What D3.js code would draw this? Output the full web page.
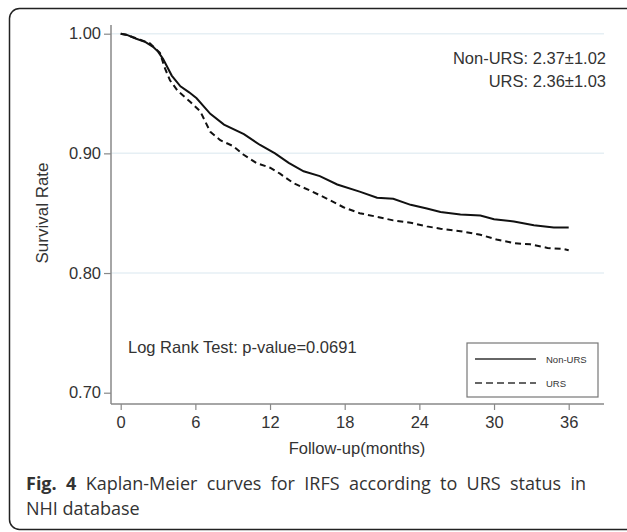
<!DOCTYPE html>
<html lang="en">
<head>
    <meta charset="UTF-8">
    <title>Kaplan-Meier curves</title>
    <script src="https://d3js.org/d3.v7.min.js"></script>
    <style>
        body { margin: 0; background-color: white; }
        .chart text { font-family: "Liberation Sans", Arial, sans-serif; fill: #333; }
        .caption { font-family: "Open Sans", "Noto Sans", sans-serif; font-size: 18px; fill: #333; }
    </style>
</head>
<body>
    <script>
        // Follow-up months and survival rate
        const nonUrsMonths = [0, 0.5, 1.2, 2.0, 2.6, 3.0, 3.4, 4.1, 4.8, 5.5, 6.1, 7.2, 8.3, 9.9, 11.2, 12.4, 13.5, 14.7, 16.0, 17.4, 19.2, 20.6, 21.9, 23.3, 24.6, 25.7, 27.3, 28.9, 30.0, 31.6, 33.2, 34.8, 36];
        const nonUrsRate = [1.000, 0.999, 0.996, 0.993, 0.989, 0.985, 0.979, 0.965, 0.956, 0.951, 0.946, 0.933, 0.924, 0.916, 0.907, 0.900, 0.892, 0.885, 0.881, 0.874, 0.868, 0.863, 0.862, 0.857, 0.854, 0.851, 0.849, 0.848, 0.845, 0.843, 0.840, 0.838, 0.838];
        const ursMonths = [0, 0.5, 1.0, 1.55, 2.35, 3.15, 3.56, 3.96, 4.6, 5.6, 6.4, 7.2, 8.0, 9.05, 9.85, 10.9, 12.0, 12.8, 13.9, 15.2, 16.6, 17.9, 19.2, 20.6, 21.9, 23.3, 24.6, 25.7, 27.3, 28.9, 30.2, 31.6, 32.9, 34.3, 35.6, 36];
        const ursRate = [1.000, 0.999, 0.997, 0.995, 0.992, 0.984, 0.971, 0.961, 0.952, 0.943, 0.935, 0.918, 0.911, 0.906, 0.899, 0.892, 0.888, 0.883, 0.875, 0.869, 0.862, 0.855, 0.850, 0.847, 0.844, 0.842, 0.839, 0.837, 0.835, 0.832, 0.828, 0.825, 0.824, 0.821, 0.820, 0.819];

        const xTicks = [0, 6, 12, 18, 24, 30, 36];
        const yTicks = [0.70, 0.80, 0.90, 1.00];
        const seriesNames = ["Non-URS", "URS"];
        const summaryLines = ["Non-URS: 2.37\u00b11.02", "URS: 2.36\u00b11.03"];
        const testLabel = "Log Rank Test: p-value=0.0691";

        const width = 627, height = 532;
        const svg = d3.select("body").append("svg")
            .attr("width", width)
            .attr("height", height);

        // card frame (right edge runs off the picture)
        svg.append("rect")
            .attr("x", 9.5).attr("y", 8.5)
            .attr("width", 640).attr("height", 521)
            .attr("rx", 10)
            .attr("fill", "white")
            .attr("stroke", "#222")
            .attr("stroke-width", 1.5);

        const chart = svg.append("g").attr("class", "chart");

        const x = d3.scaleLinear().domain([0, 36]).range([120.7, 568.7]);
        const y = d3.scaleLinear().domain([0.70, 1.00]).range([392.7, 33.7]);
        const plotLeft = 111, plotRight = 604, plotBottom = 404, plotTop = 25;

        // grid lines
        chart.append("g")
            .selectAll("line")
            .data(yTicks.filter(d => d > 0.7))
            .join("line")
            .attr("x1", plotLeft).attr("x2", plotRight)
            .attr("y1", d => y(d)).attr("y2", d => y(d))
            .attr("stroke", "#e6eff4")
            .attr("stroke-width", 1.5);

        // y axis
        const yAxis = chart.append("g")
            .attr("transform", `translate(${plotLeft},0)`)
            .call(d3.axisLeft(y).tickValues(yTicks).tickFormat(d3.format(".2f")).tickSize(7).tickSizeOuter(0));
        yAxis.select(".domain").remove();
        yAxis.append("line")
            .attr("y1", plotTop).attr("y2", plotBottom)
            .attr("stroke", "#888").attr("stroke-width", 1.5);

        // x axis
        const xAxis = chart.append("g")
            .attr("transform", `translate(0,${plotBottom})`)
            .call(d3.axisBottom(x).tickValues(xTicks).tickSize(6).tickSizeOuter(0));
        xAxis.select(".domain").remove();
        xAxis.append("line")
            .attr("x1", plotLeft).attr("x2", plotRight)
            .attr("stroke", "#888").attr("stroke-width", 1.5);

        chart.selectAll(".tick line").attr("stroke", "#888").attr("stroke-width", 1.2);
        chart.selectAll(".tick text").style("font-size", "16.5px").attr("fill", "#333");
        yAxis.selectAll(".tick text").attr("x", -10);
        xAxis.selectAll(".tick text").attr("y", 12);

        // axis titles
        chart.append("text")
            .attr("transform", "translate(48,213) rotate(-90)")
            .attr("text-anchor", "middle")
            .style("font-size", "17px")
            .text("Survival Rate");
        chart.append("text")
            .attr("x", 357).attr("y", 454)
            .attr("text-anchor", "middle")
            .style("font-size", "16.5px")
            .text("Follow-up(months)");

        // survival curves
        const line = d3.line()
            .x(d => x(d[0]))
            .y(d => y(d[1]));
        const nonUrsData = nonUrsMonths.map((m, i) => [m, nonUrsRate[i]]);
        const ursData = ursMonths.map((m, i) => [m, ursRate[i]]);

        chart.append("path")
            .datum(ursData)
            .attr("d", line)
            .attr("fill", "none")
            .attr("stroke", "#111")
            .attr("stroke-width", 2)
            .attr("stroke-dasharray", "6,4");
        chart.append("path")
            .datum(nonUrsData)
            .attr("d", line)
            .attr("fill", "none")
            .attr("stroke", "#111")
            .attr("stroke-width", 2);

        // summary text
        chart.append("g")
            .selectAll("text")
            .data(summaryLines)
            .join("text")
            .attr("x", 606)
            .attr("y", (d, i) => 64 + i * 23)
            .attr("text-anchor", "end")
            .style("font-size", "16.5px")
            .attr("fill", "#222")
            .text(d => d);

        chart.append("text")
            .attr("x", 128).attr("y", 353)
            .style("font-size", "16.5px")
            .attr("fill", "#222")
            .text(testLabel);

        // legend
        const legend = chart.append("g");
        legend.append("rect")
            .attr("x", 467).attr("y", 343)
            .attr("width", 131).attr("height", 54)
            .attr("fill", "white")
            .attr("stroke", "#777")
            .attr("stroke-width", 1.2);
        seriesNames.forEach((name, i) => {
            const ly = 359 + i * 24;
            legend.append("line")
                .attr("x1", 475).attr("x2", 536)
                .attr("y1", ly).attr("y2", ly)
                .attr("stroke", "#333")
                .attr("stroke-width", 1.5)
                .attr("stroke-dasharray", i === 1 ? "7,4" : null);
            legend.append("text")
                .attr("x", 546).attr("y", ly + 3.5)
                .style("font-size", "9.5px")
                .attr("fill", "#555")
                .text(name);
        });

        // caption
        const cap1 = svg.append("text")
            .attr("class", "caption")
            .attr("x", 26).attr("y", 490);
        cap1.append("tspan").attr("font-weight", "bold").text("Fig. 4");
        cap1.append("tspan").text(" Kaplan-Meier curves for IRFS according to URS status in");
        // justify the first line to the column width
        const targetW = 586 - 26;
        const words = "Fig. 4 Kaplan-Meier curves for IRFS according to URS status in".split(" ").length - 1;
        const extra = (targetW - cap1.node().getComputedTextLength()) / words;
        cap1.attr("word-spacing", extra);

        svg.append("text")
            .attr("class", "caption")
            .attr("x", 26).attr("y", 515)
            .text("NHI database");
    </script>
</body>
</html>
